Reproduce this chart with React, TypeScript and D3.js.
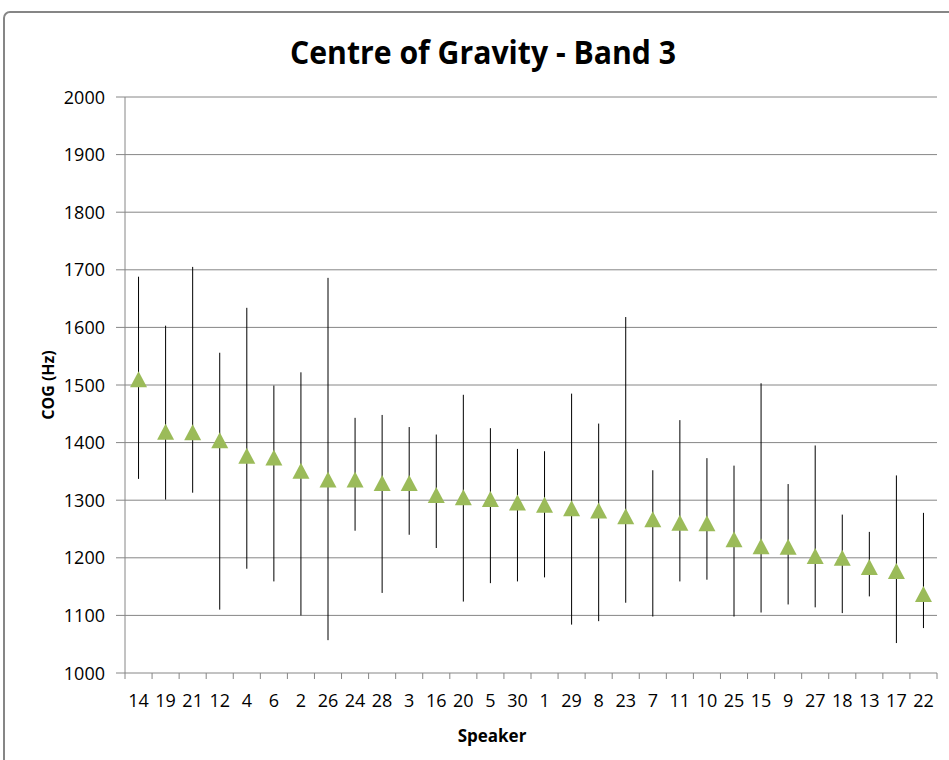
import React from "react";
import * as d3 from "d3";

// Speakers ordered by mean centre of gravity (band 3)
const speakers = ["14", "19", "21", "12", "4", "6", "2", "26", "24", "28", "3", "16", "20", "5", "30", "1", "29", "8", "23", "7", "11", "10", "25", "15", "9", "27", "18", "13", "17", "22"];
const meanCog = [1510, 1419, 1418, 1404, 1377, 1374, 1351, 1336, 1336, 1330, 1330, 1309, 1305, 1302, 1296, 1292, 1286, 1282, 1272, 1267, 1261, 1260, 1232, 1220, 1219, 1203, 1200, 1184, 1177, 1137];
const highCog = [1688, 1603, 1705, 1556, 1634, 1499, 1522, 1686, 1443, 1448, 1427, 1414, 1483, 1425, 1389, 1385, 1485, 1433, 1618, 1352, 1439, 1373, 1360, 1503, 1328, 1395, 1275, 1245, 1343, 1278];
const lowCog = [1337, 1301, 1313, 1110, 1181, 1159, 1100, 1057, 1247, 1139, 1240, 1217, 1124, 1156, 1159, 1166, 1084, 1090, 1122, 1098, 1159, 1162, 1098, 1105, 1119, 1114, 1104, 1133, 1052, 1078];
const yTicks = [1000, 1100, 1200, 1300, 1400, 1500, 1600, 1700, 1800, 1900, 2000];

const W = 949;
const H = 760;
const plot = { left: 125, right: 937, top: 97, bottom: 673 };
const FONT = "'Open Sans', 'DejaVu Sans', sans-serif";
const GRID = "#868686";
const MARKER = "#9BBB59";

export default function App() {
  const x = d3
    .scaleBand<string>()
    .domain(speakers)
    .range([plot.left, plot.right])
    .paddingInner(0)
    .paddingOuter(0);
  const y = d3.scaleLinear().domain([1000, 2000]).range([plot.bottom, plot.top]);
  const cx = (s: string) => (x(s) as number) + x.bandwidth() / 2;

  const triangle = (px: number, py: number) => {
    const path = d3.path();
    path.moveTo(px, py - 8);
    path.lineTo(px + 8.5, py + 8);
    path.lineTo(px - 8.5, py + 8);
    path.closePath();
    return path.toString();
  };

  const boundaries = speakers.map((s) => x(s) as number).concat([plot.right]);

  return (
    <svg
      width={W}
      height={H}
      style={{ position: "absolute", left: 0, top: 0, background: "#fff" }}
      fontFamily={FONT}
    >
      <rect x={0} y={0} width={W} height={H} fill="#fff" />
      {/* chart frame */}
      <rect x={4} y={12} width={980} height={800} rx={6} fill="none" stroke={GRID} strokeWidth={2} />

      {/* title */}
      <text
        x={483}
        y={64}
        textAnchor="middle"
        fontSize={32}
        fontWeight="bold"
        fill="#000"
        textLength={386}
        lengthAdjust="spacingAndGlyphs"
      >
        Centre of Gravity - Band 3
      </text>

      {/* horizontal gridlines and y-axis ticks */}
      {yTicks.map((t) => (
        <g key={t}>
          <line x1={plot.left} x2={plot.right} y1={y(t)} y2={y(t)} stroke={GRID} strokeWidth={1} />
          <line x1={plot.left - 9} x2={plot.left} y1={y(t)} y2={y(t)} stroke={GRID} strokeWidth={1} />
          <text x={105} y={y(t) + 6.5} textAnchor="end" fontSize={18} fill="#000">
            {t}
          </text>
        </g>
      ))}

      {/* y axis line */}
      <line x1={plot.left} x2={plot.left} y1={plot.top} y2={plot.bottom} stroke={GRID} strokeWidth={1} />

      {/* x-axis ticks between categories */}
      {boundaries.map((b, i) => (
        <line key={i} x1={b} x2={b} y1={plot.bottom} y2={plot.bottom + 6} stroke={GRID} strokeWidth={1} />
      ))}

      {/* x-axis labels */}
      {speakers.map((s) => (
        <text key={s} x={cx(s)} y={707} textAnchor="middle" fontSize={18} fill="#000">
          {s}
        </text>
      ))}

      {/* error bars */}
      {speakers.map((s, i) => (
        <line
          key={s}
          x1={cx(s)}
          x2={cx(s)}
          y1={y(highCog[i])}
          y2={y(lowCog[i])}
          stroke="#000"
          strokeWidth={1}
        />
      ))}

      {/* mean markers */}
      {speakers.map((s, i) => (
        <path key={s} d={triangle(cx(s), y(meanCog[i]))} fill={MARKER} />
      ))}

      {/* axis titles */}
      <text x={492} y={742} textAnchor="middle" fontSize={17} fontWeight="bold" fill="#000">
        Speaker
      </text>
      <text
        transform={`translate(54, 385) rotate(-90)`}
        textAnchor="middle"
        fontSize={16}
        fontWeight="bold"
        fill="#000"
      >
        COG (Hz)
      </text>
    </svg>
  );
}
